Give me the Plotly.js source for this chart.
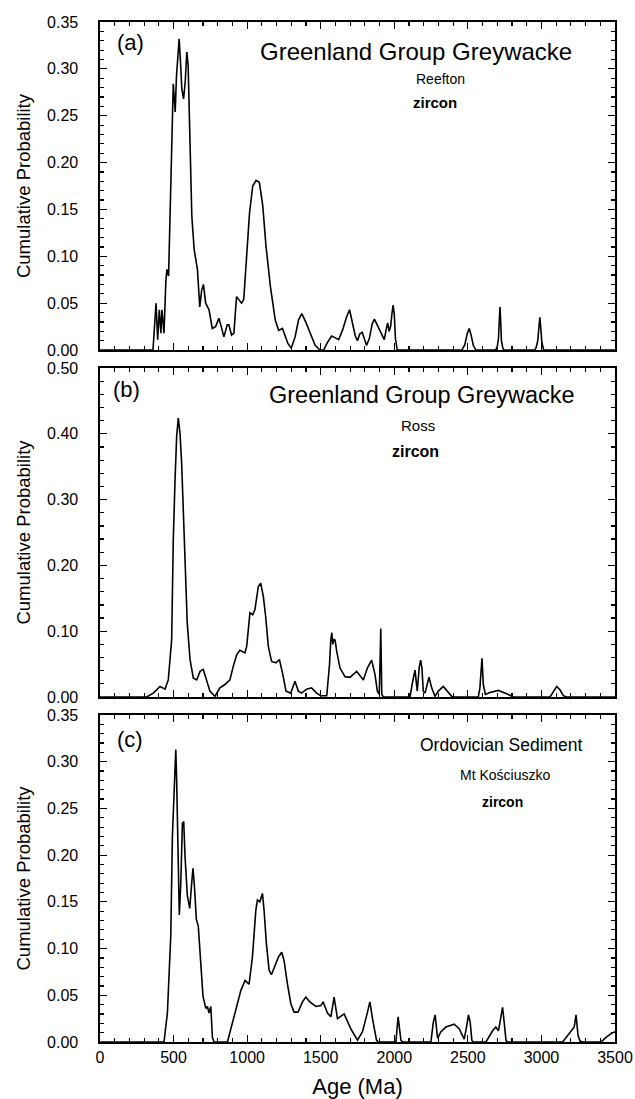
<!DOCTYPE html>
<html>
<head>
<meta charset="utf-8">
<script src="https://cdn.plot.ly/plotly-3.0.1.min.js"></script>
<style>
html,body{margin:0;padding:0;background:#fff;}
#chart{width:635px;height:1099px;}
</style>
</head>
<body>
<div id="chart"></div>
<script>
// ---- Data ----
var ageA = [0,360,381,392,403,414,421,435,448,455,466,477,489,498,504,511,520,531,538,547,556,568,579,590,599,610,624,640,662,678,691,703,718,741,763,786,808,824,842,865,876,894,910,928,944,962,977,995,1016,1038,1061,1083,1106,1128,1158,1191,1214,1240,1277,1299,1326,1349,1371,1398,1428,1462,1495,1520,1545,1574,1600,1622,1650,1675,1696,1715,1735,1750,1765,1782,1795,1811,1830,1850,1865,1880,1899,1915,1932,1945,1955,1965,1975,1985,1992,2000,2008,2020,2460,2480,2495,2509,2522,2537,2555,2690,2700,2708,2714,2718,2722,2728,2738,2745,2955,2965,2975,2983,2989,2995,3003,3015,3500];
var probA = [0,0,0.05,0.011,0.043,0.018,0.043,0.018,0.075,0.086,0.079,0.143,0.239,0.284,0.271,0.254,0.293,0.318,0.332,0.307,0.279,0.268,0.286,0.318,0.304,0.232,0.143,0.107,0.086,0.046,0.064,0.070,0.05,0.043,0.023,0.025,0.034,0.025,0.014,0.027,0.027,0.016,0.018,0.057,0.054,0.05,0.054,0.093,0.146,0.175,0.181,0.179,0.154,0.111,0.068,0.032,0.021,0.023,0.007,0.002,0.014,0.032,0.039,0.030,0.018,0.005,0,0,0.008,0.015,0.013,0.011,0.022,0.035,0.043,0.03,0.015,0.010,0.017,0.019,0.012,0.005,0.012,0.028,0.033,0.028,0.022,0.016,0.011,0.022,0.029,0.020,0.025,0.040,0.048,0.038,0.012,0,0,0.006,0.017,0.023,0.016,0.005,0,0,0.004,0.012,0.035,0.046,0.035,0.01,0.002,0,0,0.003,0.01,0.028,0.035,0.025,0.008,0,0];

var ageB = [0,317,362,408,442,464,487,498,510,521,532,544,555,566,578,593,612,634,657,680,702,725,747,781,815,849,883,906,929,951,985,997,1019,1038,1053,1076,1092,1110,1126,1144,1166,1196,1219,1241,1264,1296,1325,1348,1370,1404,1438,1472,1500,1541,1560,1568,1575,1582,1590,1598,1609,1631,1665,1699,1744,1790,1817,1846,1869,1885,1898,1904,1908,1912,1915,1926,2107,2125,2141,2156,2170,2179,2188,2197,2209,2236,2254,2277,2299,2333,2367,2390,2410,2571,2582,2596,2605,2619,2650,2707,2764,2809,3058,3081,3104,3126,3149,3172,3500];
var probB = [0,0,0.006,0.016,0.012,0.026,0.087,0.239,0.33,0.396,0.424,0.40,0.355,0.289,0.188,0.112,0.057,0.029,0.026,0.039,0.042,0.026,0.009,0.001,0.014,0.019,0.026,0.047,0.064,0.071,0.067,0.077,0.128,0.125,0.133,0.168,0.173,0.153,0.122,0.077,0.054,0.052,0.057,0.036,0.009,0.006,0.024,0.009,0.006,0.012,0.014,0.006,0.002,0.002,0.05,0.085,0.098,0.08,0.088,0.086,0.069,0.044,0.031,0.030,0.039,0.026,0.044,0.056,0.034,0.009,0.004,0.06,0.104,0.05,0.004,0,0,0.024,0.041,0.009,0.046,0.056,0.044,0.009,0.006,0.030,0.014,0.001,0.009,0.016,0.006,0.001,0,0,0.014,0.059,0.019,0.004,0.007,0.010,0.005,0,0,0.009,0.016,0.011,0.002,0,0];

var ageC = [0,435,458,481,492,503,515,521,530,539,549,560,569,578,594,610,623,632,642,655,668,685,700,719,730,741,753,764,775,866,900,934,957,986,1013,1036,1059,1070,1086,1104,1115,1131,1149,1165,1183,1213,1235,1251,1274,1297,1319,1346,1376,1399,1426,1467,1501,1516,1546,1569,1591,1614,1659,1705,1750,1784,1818,1834,1852,1879,1890,2011,2026,2045,2055,2249,2265,2278,2294,2317,2351,2407,2442,2475,2491,2504,2516,2527,2535,2623,2668,2690,2708,2725,2736,2747,2759,2768,3144,3223,3235,3249,3262,3275,3405,3439,3473,3500];
var probC = [0,0,0.031,0.114,0.220,0.273,0.313,0.28,0.198,0.136,0.170,0.234,0.236,0.198,0.156,0.143,0.170,0.186,0.166,0.131,0.124,0.084,0.049,0.036,0.038,0.031,0.038,0.005,0,0,0.020,0.041,0.055,0.066,0.062,0.091,0.141,0.152,0.150,0.159,0.141,0.105,0.077,0.072,0.080,0.091,0.096,0.087,0.062,0.041,0.032,0.032,0.043,0.048,0.043,0.038,0.039,0.043,0.031,0.027,0.048,0.025,0.030,0.014,0.002,0.011,0.032,0.043,0.025,0.002,0,0,0.027,0.002,0,0,0.021,0.029,0.004,0.011,0.016,0.019,0.014,0.003,0.016,0.029,0.021,0.002,0,0,0.012,0.016,0.012,0.027,0.037,0.021,0.002,0,0,0.016,0.029,0.007,0.001,0,0,0.005,0.009,0.011];

var panelLetters = ["(a)", "(b)", "(c)"];
var panelTitles = ["Greenland Group Greywacke", "Greenland Group Greywacke", "Ordovician Sediment"];
var panelPlaces = ["Reefton", "Ross", "Mt Kościuszko"];
var mineral = "zircon";
var xTitle = "Age (Ma)";
var yTitle = "Cumulative Probability";

// ---- Styling ----
var FONT = "Liberation Sans, Arial, Helvetica, sans-serif";
var lineStyle = {color: "#000", width: 1.6};

var traces = [
  {x: ageA, y: probA, xaxis: "x", yaxis: "y", type: "scatter", mode: "lines", line: lineStyle, showlegend: false, hoverinfo: "skip"},
  {x: ageB, y: probB, xaxis: "x2", yaxis: "y2", type: "scatter", mode: "lines", line: lineStyle, showlegend: false, hoverinfo: "skip"},
  {x: ageC, y: probC, xaxis: "x3", yaxis: "y3", type: "scatter", mode: "lines", line: lineStyle, showlegend: false, hoverinfo: "skip"}
];

function xAx(anchor, labels) {
  var a = {
    anchor: anchor, domain: [0, 1], range: [0, 3500],
    tick0: 0, dtick: 500, ticks: "inside", ticklen: 7, tickwidth: 1.2, tickcolor: "#000",
    minor: {dtick: 100, ticks: "inside", ticklen: 4, tickwidth: 1.2, tickcolor: "#000", showgrid: false},
    showline: true, linecolor: "#000", linewidth: 1.6, mirror: "ticks",
    showgrid: false, zeroline: false, showticklabels: labels,
    tickfont: {family: FONT, size: 16, color: "#000"}
  };
  if (labels) {
    a.title = {text: xTitle, font: {family: FONT, size: 22, color: "#000"}, standoff: 14};
  }
  return a;
}
function yAx(anchor, dom, maxV, major, minorStep) {
  return {
    anchor: anchor, domain: dom, range: [0, maxV],
    tick0: 0, dtick: major, tickformat: ".2f", ticks: "inside", ticklen: 7, tickwidth: 1.2, tickcolor: "#000",
    minor: {dtick: minorStep, ticks: "inside", ticklen: 4, tickwidth: 1.2, tickcolor: "#000", showgrid: false},
    showline: true, linecolor: "#000", linewidth: 1.6, mirror: "ticks",
    showgrid: false, zeroline: false,
    ticklabelstandoff: 17,
    tickfont: {family: FONT, size: 16, color: "#000"},
    title: {text: yTitle, font: {family: FONT, size: 18.5, color: "#000"}, standoff: 11}
  };
}

var annotations = [];
var ann = [
  // [xref, yref, text, x, y, size, bold]
  ["x domain", "y domain", panelLetters[0], 0.060, 0.939, 22, false],
  ["x domain", "y domain", panelTitles[0], 0.614, 0.909, 24, false],
  ["x domain", "y domain", panelPlaces[0], 0.662, 0.826, 14, false],
  ["x domain", "y domain", mineral, 0.650, 0.756, 15, true],
  ["x2 domain", "y2 domain", panelLetters[1], 0.052, 0.936, 22, false],
  ["x2 domain", "y2 domain", panelTitles[1], 0.625, 0.918, 23.5, false],
  ["x2 domain", "y2 domain", panelPlaces[1], 0.617, 0.824, 15, false],
  ["x2 domain", "y2 domain", mineral, 0.613, 0.745, 16, true],
  ["x3 domain", "y3 domain", panelLetters[2], 0.058, 0.924, 22, false],
  ["x3 domain", "y3 domain", panelTitles[2], 0.779, 0.908, 17.5, false],
  ["x3 domain", "y3 domain", panelPlaces[2], 0.786, 0.817, 14, false],
  ["x3 domain", "y3 domain", mineral, 0.782, 0.734, 14, true]
];
ann.forEach(function (a) {
  annotations.push({
    xref: a[0], yref: a[1], x: a[3], y: a[4], xanchor: "center", yanchor: "middle",
    text: a[6] ? "<b>" + a[2] + "</b>" : a[2], showarrow: false,
    font: {family: FONT, size: a[5], color: "#000"}
  });
});

var layout = {
  width: 635, height: 1099,
  margin: {l: 100, r: 20, t: 22, b: 57, pad: 0},
  paper_bgcolor: "#fff", plot_bgcolor: "#fff",
  showlegend: false,
  xaxis: xAx("y", false),
  yaxis: yAx("x", [0.6784, 1], 0.35, 0.05, 0.01),
  xaxis2: xAx("y2", false),
  yaxis2: yAx("x2", [0.3382, 0.6608], 0.5, 0.1, 0.02),
  xaxis3: xAx("y3", true),
  yaxis3: yAx("x3", [0, 0.3206], 0.35, 0.05, 0.01),
  annotations: annotations
};

Plotly.newPlot("chart", traces, layout, {staticPlot: true, displayModeBar: false});
</script>
</body>
</html>
